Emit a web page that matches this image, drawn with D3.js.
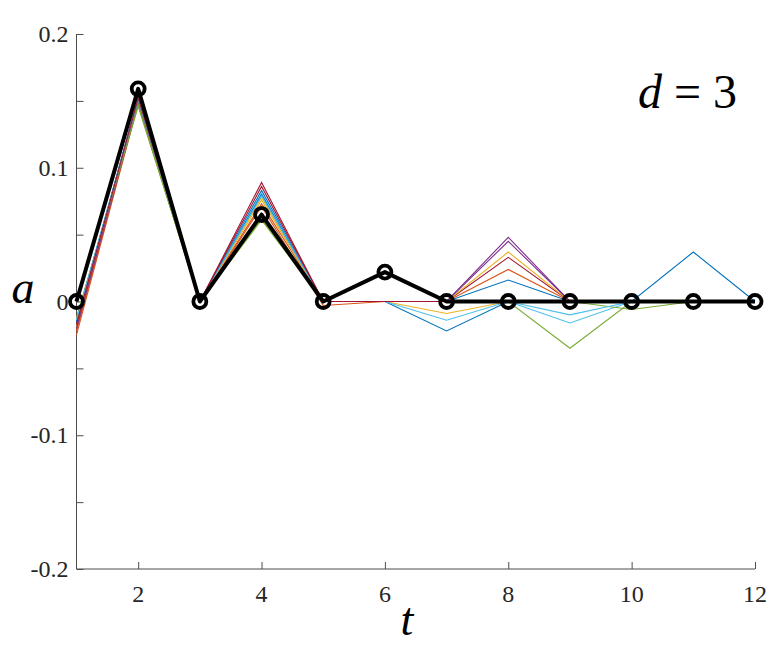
<!DOCTYPE html>
<html lang="en">
<head>
    <meta charset="UTF-8">
    <title>a(t), d = 3</title>
    <style>
        body { margin: 0; background: #fff; }
        svg text { fill: #262626; }
        .axis path, .axis line { stroke: #4d4d4d; stroke-width: 1; }
        .thin { fill: none; stroke-width: 1.1; }
    </style>
</head>
<body>

<script src="https://d3js.org/d3.v7.min.js"></script>
<script>

    const size = {'width': 772, 'height': 645};
    const plot = {'left': 76.5, 'right': 755, 'top': 34, 'bottom': 569};
    const serif = "Liberation Serif, DejaVu Serif";

    const tValues = [1, 2, 3, 4, 5, 6, 7, 8, 9, 10, 11, 12];
    const xTicks = [2, 4, 6, 8, 10, 12];
    const yTicks = [-0.2, -0.15, -0.1, -0.05, 0, 0.05, 0.1, 0.15, 0.2];
    const yLabels = {'-0.2': '-0.2', '-0.1': '-0.1', '0': '0', '0.1': '0.1', '0.2': '0.2'};

    // thin coloured runs (matlab default colour order, cycled twice)
    const seriesColours = ['#0072BD', '#D95319', '#EDB120', '#7E2F8E', '#77AC30', '#4DBEEE', '#A2142F',
                           '#0072BD', '#D95319', '#EDB120', '#7E2F8E', '#77AC30', '#4DBEEE', '#A2142F'];
    const series = [
        [-0.016, 0.152, 0, 0.083, 0, 0, -0.022, 0, 0, 0, 0, 0],
        [-0.025, 0.148, 0, 0.071, -0.003, 0, 0, 0, 0, 0, 0, 0],
        [-0.020, 0.150, 0, 0.078, 0, 0, -0.009, 0, 0, 0, 0, 0],
        [-0.021, 0.149, 0, 0.064, 0, 0, 0, 0.048, 0, 0, 0, 0],
        [-0.012, 0.146, 0, 0.061, 0, 0, 0, 0, -0.035, 0, 0, 0],
        [-0.014, 0.151, 0, 0.081, 0, 0, -0.014, 0, -0.016, 0, 0, 0],
        [-0.018, 0.153, 0, 0.089, 0, 0, 0, 0.033, 0, 0, 0, 0],
        [-0.015, 0.152, 0, 0.080, 0, 0, 0, 0.016, 0, 0, 0.037, 0],
        [-0.022, 0.149, 0, 0.073, 0, 0, 0, 0.024, 0, 0, 0, 0],
        [-0.019, 0.150, 0, 0.076, 0, 0, 0, 0.037, 0, 0, 0, 0],
        [-0.020, 0.149, 0, 0.066, 0, 0, 0, 0.045, 0, 0, 0, 0],
        [-0.013, 0.147, 0, 0.062, 0, 0, 0, 0, 0, -0.006, 0, 0],
        [-0.014, 0.151, 0, 0.079, 0, 0, 0, 0, -0.010, 0, 0, 0],
        [-0.017, 0.152, 0, 0.086, 0, 0, 0, 0, 0, 0, 0, 0]
    ];

    // bold reference run with circle markers
    const bold = [0, 0.159, 0, 0.065, 0, 0.022, 0, 0, 0, 0, 0, 0];

    let svg = d3.select('body').append('svg')
        .attr('width', size.width)
        .attr('height', size.height);

    let x = d3.scaleLinear().domain([1, 12]).range([plot.left, plot.right]);
    let y = d3.scaleLinear().domain([-0.2, 0.2]).range([plot.bottom, plot.top]);

    let line = d3.line()
        .x(function(d, i) { return x(tValues[i]); })
        .y(function(d) { return y(d); });

    // axes, ticks pointing inward
    let xAxis = svg.append('g')
        .attr('class', 'axis')
        .attr('transform', 'translate(0,' + plot.bottom + ')')
        .call(d3.axisTop(x).tickValues(xTicks).tickSize(7).tickFormat(''));
    xAxis.select('.domain').attr('d', 'M' + plot.left + ',0H' + plot.right);

    let yAxis = svg.append('g')
        .attr('class', 'axis')
        .attr('transform', 'translate(' + plot.left + ',0)')
        .call(d3.axisRight(y).tickValues(yTicks).tickSize(7).tickFormat(''));
    yAxis.select('.domain').attr('d', 'M0,' + plot.top + 'V' + plot.bottom);

    svg.append('g').selectAll('text')
        .data(xTicks)
        .enter().append('text')
        .attr('x', function(d) { return x(d); })
        .attr('y', 602)
        .attr('text-anchor', 'middle')
        .attr('font-family', serif)
        .attr('font-size', 24)
        .text(function(d) { return d; });

    svg.append('g').selectAll('text')
        .data(yTicks.filter(function(d) { return yLabels[String(d)] !== undefined; }))
        .enter().append('text')
        .attr('x', plot.left - 8)
        .attr('y', function(d) { return y(d) + 8; })
        .attr('text-anchor', 'end')
        .attr('font-family', serif)
        .attr('font-size', 24)
        .text(function(d) { return yLabels[String(d)]; });

    // thin runs
    svg.append('g').selectAll('path')
        .data(series)
        .enter().append('path')
        .attr('class', 'thin')
        .style('stroke', function(d, i) { return seriesColours[i]; })
        .attr('d', line);

    svg.append('path')
        .datum(bold)
        .style('fill', 'none')
        .style('stroke', '#000')
        .style('stroke-width', 4)
        .style('stroke-linejoin', 'round')
        .attr('d', line);

    svg.append('g').selectAll('circle')
        .data(bold)
        .enter().append('circle')
        .attr('cx', function(d, i) { return x(tValues[i]); })
        .attr('cy', function(d) { return y(d); })
        .attr('r', 6.5)
        .style('fill', 'none')
        .style('stroke', '#000')
        .style('stroke-width', 3.8);

    // labels
    svg.append('text')
        .attr('x', 23)
        .attr('y', 303)
        .attr('text-anchor', 'middle')
        .attr('font-family', serif)
        .attr('font-size', 46)
        .attr('font-style', 'italic')
        .style('fill', '#000')
        .text('a');

    svg.append('text')
        .attr('x', 407)
        .attr('y', 635)
        .attr('text-anchor', 'middle')
        .attr('font-family', serif)
        .attr('font-size', 46)
        .attr('font-style', 'italic')
        .style('fill', '#000')
        .text('t');

    let dLabel = svg.append('text')
        .attr('x', 737)
        .attr('y', 108)
        .attr('text-anchor', 'end')
        .attr('font-family', serif)
        .attr('font-size', 48)
        .style('fill', '#000');
    dLabel.append('tspan').attr('font-style', 'italic').text('d');
    dLabel.append('tspan').text(' = 3');

</script>

</body>
</html>
